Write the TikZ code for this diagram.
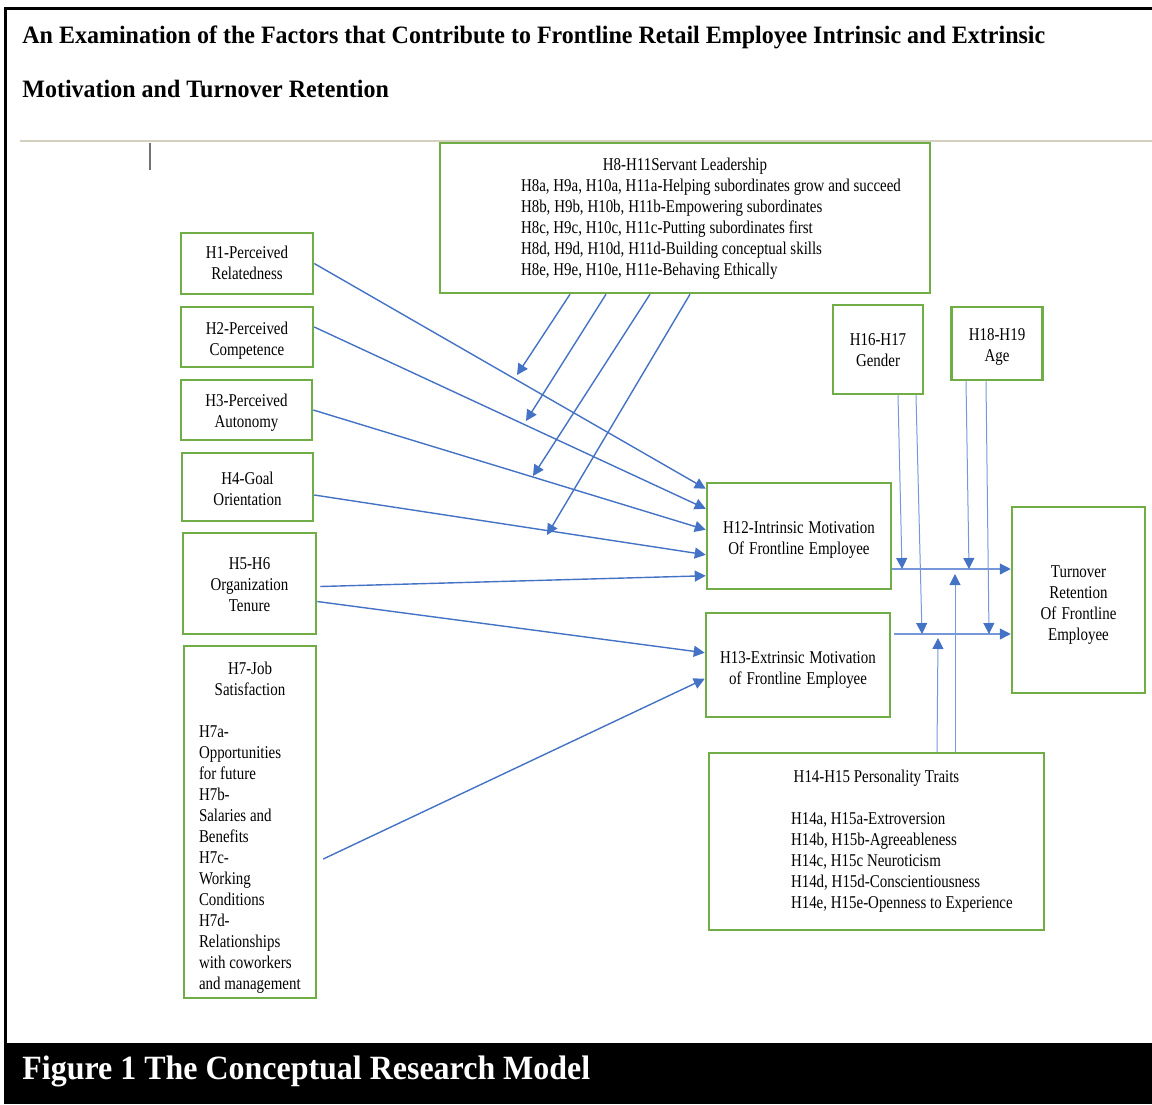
\documentclass[tikz,border=0pt]{standalone}
\usepackage{fontspec}
\setmainfont{Liberation Serif}
\newfontfamily\boxfont[FakeStretch=0.83]{Liberation Serif}
\newfontfamily\headfont[FakeStretch=0.96]{Liberation Serif}
\newfontfamily\capfont[FakeStretch=0.94]{Liberation Serif}
\usetikzlibrary{arrows.meta,calc}

\definecolor{boxgreen}{RGB}{112,173,71}
\definecolor{arrowblue}{RGB}{68,114,196}
\definecolor{lineblue}{RGB}{118,152,218}
\definecolor{rulegray}{RGB}{212,208,192}

\newcommand{\boxtext}{\boxfont\fontsize{9}{10.5}\selectfont}
\newcommand{\tightspace}{\spaceskip 1.9pt plus 1pt\relax}
\newcommand{\headline}[1]{{\centering\tightspace #1\par}}
\newcommand{\itemlines}[2]{{\leftskip #1\rightskip 0pt plus 1fil\parfillskip 0pt plus 1fil\tightspace #2\par}}
\newcommand{\lowerby}[1]{\par\vspace{#1}\tightspace}

\begin{document}
\begin{tikzpicture}[x=0.5pt,y=-0.5pt,
  hbox/.style={draw=boxgreen,line width=1.25pt,inner sep=0pt,font=\boxtext},
  sbox/.style={hbox,align=center,text width=#1,minimum width=#1},
  link/.style={arrowblue,line width=0.7pt,-{Triangle[length=5.5pt,width=5.5pt]}},
  thinlink/.style={lineblue,line width=0.5pt,-{Triangle[length=5.5pt,width=5.5pt,color=arrowblue]}}]
\useasboundingbox (0,0) rectangle (1152,1104);
\fill[black] (4,1043) rectangle (1152,1104);
\draw[black,line width=1.5pt] (5.5,1043) -- (5.5,8) -- (1152,8);
\draw[rulegray,line width=0.8pt] (20,141) -- (1152,141);
\draw[black!55,line width=1pt] (150,143) -- (150,170);

\node[anchor=west,align=left,inner sep=0pt,font=\headfont\bfseries\fontsize{12.5}{27}\selectfont] (title) at (22,62)
  {An Examination of the Factors that Contribute to Frontline Retail Employee Intrinsic and Extrinsic\\
   Motivation and Turnover Retention};
\node[anchor=west,inner sep=0pt,text=white,font=\capfont\bfseries\fontsize{17}{20}\selectfont] (caption) at (22,1071)
  {Figure 1 The Conceptual Research Model};

\node[hbox,text width=245pt,minimum height=75pt] (sl) at (685,218)
  {\lowerby{-4pt}\headline{H8-H11Servant Leadership}%
   \itemlines{40.5pt}{H8a, H9a, H10a, H11a-Helping subordinates grow and succeed\newline
   H8b, H9b, H10b, H11b-Empowering subordinates\newline
   H8c, H9c, H10c, H11c-Putting subordinates first\newline
   H8d, H9d, H10d, H11d-Building conceptual skills\newline
   H8e, H9e, H10e, H11e-Behaving Ethically}};
\node[sbox=66pt,minimum height=30.5pt] (hrel) at (247,263.5) {\lowerby{-5pt}H1-Perceived\\Relatedness};
\node[sbox=66pt,minimum height=30pt] (hcomp) at (247,337) {\lowerby{-1pt}H2-Perceived\\Competence};
\node[sbox=65.5pt,minimum height=30pt] (haut) at (246.5,410) {\lowerby{-2pt}H3-Perceived\\Autonomy};
\node[sbox=65.5pt,minimum height=34pt] (hgoal) at (247.5,487) {\lowerby{-2pt}H4-Goal\\Orientation};
\node[sbox=66.5pt,minimum height=50.5pt] (hten) at (249.5,583.5) {\lowerby{-3pt}H5-H6\\Organization\\Tenure};
\node[hbox,text width=66pt,minimum height=176pt] (hjob) at (250,822)
  {\lowerby{1pt}\headline{H7-Job\\Satisfaction}%
   \itemlines{7.5pt}{\mbox{}\newline H7a-\newline Opportunities\newline for future\newline H7b-\newline
   Salaries and\newline Benefits\newline H7c-\newline Working\newline Conditions\newline H7d-\newline
   Relationships\newline with coworkers\newline and management}};
\node[sbox=92pt,minimum height=53pt] (hin) at (799,536) {\lowerby{-1pt}H12-Intrinsic Motivation\\Of Frontline Employee};
\node[sbox=92pt,minimum height=52pt] (hex) at (798,665) {\lowerby{0pt}H13-Extrinsic Motivation\\of Frontline Employee};
\node[sbox=45pt,minimum height=44.5pt] (hgen) at (878,349.5) {\lowerby{-3.5pt}H16-H17\\Gender};
\node[sbox=45.5pt,minimum height=36.5pt] (hage) at (997,343.5) {\lowerby{-1pt}H18-H19\\Age};
\node[sbox=66.5pt,minimum height=93pt] (hturn) at (1078.5,600) {\lowerby{0pt}Turnover\\Retention\\Of Frontline\\Employee};
\node[hbox,text width=167.5pt,minimum height=88.5pt] (hpers) at (876.5,841.5)
  {\headline{H14-H15 Personality Traits}%
   \itemlines{41pt}{\mbox{}\newline H14a, H15a-Extroversion\newline H14b, H15b-Agreeableness\newline
   H14c, H15c Neuroticism\newline H14d, H15d-Conscientiousness\newline H14e, H15e-Openness to Experience}};

\draw[link] (hrel.east) -- ($(hin.north west)+(0,7)$);
\draw[link] ($(hcomp.east)+(0,-10)$) -- ($(hin.north west)+(0,27)$);
\draw[link] (haut.east) -- ($(hin.north west)+(0,48)$);
\draw[link] ($(hgoal.east)+(0,8)$) -- ($(hin.north west)+(0,73)$);
\draw[link] ($(hten.east)+(3,3)$) -- ($(hin.north west)+(0,94)$);
\draw[link] ($(hten.east)+(0,18)$) -- ($(hex.north west)+(0,41)$);
\draw[link] ($(hjob.east)+(6,37)$) -- ($(hex.north west)+(0,67)$);

\coordinate (slA) at (517,375);
\coordinate (slB) at (526,421);
\coordinate (slC) at (533,476);
\coordinate (slD) at (547,535);
\draw[link] ($(sl.south)+(-115,0)$) -- (slA);
\draw[link] ($(sl.south)+(-79,0)$) -- (slB);
\draw[link] ($(sl.south)+(-35,0)$) -- (slC);
\draw[link] ($(sl.south)+(5,0)$) -- (slD);

\coordinate (inmeet) at ($(hturn.west)+(0,-31)$);
\coordinate (exmeet) at ($(hturn.west)+(0,34)$);
\draw[thinlink,line width=0.6pt] (hin.east |- inmeet) -- (inmeet);
\draw[thinlink,line width=0.6pt] ([xshift=1.5pt]hex.east |- exmeet) -- (exmeet);

\coordinate (genA) at (902,569);
\coordinate (genB) at (922,634);
\coordinate (ageA) at (969,569);
\coordinate (ageB) at (989,634);
\coordinate (persA) at (938,638);
\coordinate (persB) at (955,574);
\draw[thinlink] ($(hgen.south)+(20,0)$) -- (genA);
\draw[thinlink] ($(hgen.south)+(38,0)$) -- (genB);
\draw[thinlink] ($(hage.south)+(-31,0)$) -- (ageA);
\draw[thinlink] ($(hage.south)+(-11,0)$) -- (ageB);
\draw[thinlink] ($(hpers.north)+(60.5,0)$) -- (persA);
\draw[thinlink] ($(hpers.north)+(78.5,0)$) -- (persB);
\end{tikzpicture}
\end{document}
